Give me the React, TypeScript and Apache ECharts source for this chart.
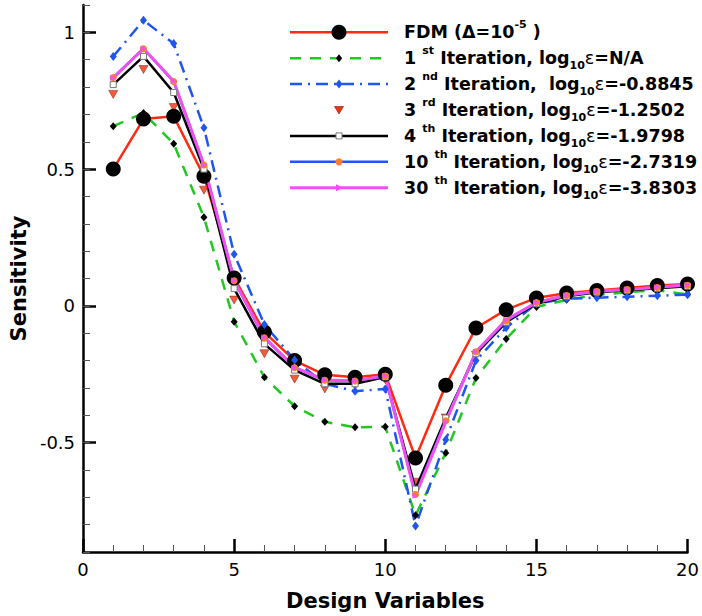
import React, { useEffect, useRef } from "react";
import * as echarts from "echarts";

const X = [1, 2, 3, 4, 5, 6, 7, 8, 9, 10, 11, 12, 13, 14, 15, 16, 17, 18, 19, 20];
const FDM = [0.5, 0.683, 0.693, 0.474, 0.102, -0.096, -0.2, -0.252, -0.261, -0.25, -0.556, -0.29, -0.081, -0.014, 0.029, 0.047, 0.056, 0.065, 0.074, 0.08];
const IT1 = [0.657, 0.705, 0.593, 0.324, -0.058, -0.261, -0.367, -0.424, -0.444, -0.442, -0.766, -0.538, -0.264, -0.121, -0.004, 0.022, 0.04, 0.05, 0.057, 0.042];
const IT2 = [0.912, 1.044, 0.959, 0.651, 0.189, -0.068, -0.198, -0.285, -0.312, -0.304, -0.805, -0.49, -0.2, -0.08, 0.008, 0.026, 0.03, 0.033, 0.037, 0.041];
const IT3 = [0.773, 0.864, 0.725, 0.423, 0.021, -0.175, -0.268, -0.304, -0.292, -0.27, -0.645, -0.41, -0.18, -0.075, 0.005, 0.027, 0.036, 0.041, 0.047, 0.053];
const IT4 = [0.809, 0.912, 0.78, 0.5, 0.063, -0.139, -0.235, -0.285, -0.285, -0.26, -0.67, -0.41, -0.175, -0.06, 0.008, 0.035, 0.05, 0.057, 0.064, 0.072];
const IT10 = [0.835, 0.94, 0.82, 0.515, 0.092, -0.117, -0.226, -0.272, -0.275, -0.257, -0.69, -0.42, -0.168, -0.055, 0.012, 0.038, 0.052, 0.06, 0.067, 0.075];
const IT30 = [0.833, 0.941, 0.821, 0.516, 0.093, -0.115, -0.225, -0.271, -0.274, -0.256, -0.694, -0.424, -0.168, -0.051, 0.012, 0.039, 0.053, 0.06, 0.068, 0.077];

const Y_MAJOR = [-0.5, 0, 0.5, 1];

const ORD = ["", "st", "nd", "rd", "th", "th", "th"];
const NUMS = ["", "1", "2", "3", "4", "10", "30"];
const EPS = ["", "=N/A", "=-0.8845", "=-1.2502", "=-1.9798", "=-2.7319", "=-3.8303"];

const FONT = "'DejaVu Sans', 'Liberation Sans', Arial, sans-serif";

const pairs = (ys: number[]) => X.map((x, i) => [x, ys[i]]);

export default function App() {
  const ref = useRef<HTMLDivElement>(null);
  useEffect(() => {
    if (!ref.current) return;
    const chart = echarts.init(ref.current, undefined, { renderer: "svg" });

    const rich = {
      b: { fontFamily: FONT, fontWeight: "bold", fontSize: 17.5, fill: "#000", lineHeight: 26 },
      sup: { fontFamily: FONT, fontWeight: "bold", fontSize: 11, fill: "#000", verticalAlign: "top", lineHeight: 26 },
      sub: { fontFamily: FONT, fontWeight: "bold", fontSize: 11, fill: "#000", verticalAlign: "bottom", lineHeight: 22 },
      e: { fontFamily: FONT, fontWeight: "normal", fontSize: 17.5, fill: "#000", lineHeight: 26 },
    };

    const rowY = (i: number) => 32.3 + i * 25.9;
    const L1 = 290, L2 = 388, CX = 339, TX = 404;

    const labelText = (i: number) => {
      if (i === 0) return "{b|FDM (Δ=10}{sup|-5}{b| )}";
      const sp = i === 2 ? "  " : " ";
      return `{b|${NUMS[i]} }{sup|${ORD[i]}}{b| Iteration,${sp}log}{sub|10}{e|ε}{b|${EPS[i]}}`;
    };

    const legendEls: any[] = [];
    const lineDefs = [
      { stroke: "#ff2a10", dash: null, w: 2.5 },
      { stroke: "#20c820", dash: [11, 9], w: 2.5 },
      { stroke: "#1f55f0", dash: [12, 6, 2, 6], w: 2.5 },
      null,
      { stroke: "#000", dash: null, w: 2.5 },
      { stroke: "#1e55ff", dash: null, w: 2.5 },
      { stroke: "#f050f0", dash: null, w: 3 },
    ];
    for (let i = 0; i < 7; i++) {
      const y = rowY(i);
      const ld = lineDefs[i];
      if (ld) {
        legendEls.push({
          type: "line",
          shape: { x1: L1, y1: y, x2: L2, y2: y },
          style: { stroke: ld.stroke, lineWidth: ld.w, lineDash: ld.dash || undefined },
          z: 100,
        });
      }
      legendEls.push({
        type: "text",
        x: TX,
        y: y,
        style: { text: labelText(i), rich, verticalAlign: "middle", align: "left" },
        z: 100,
      });
    }
    legendEls.push({ type: "circle", shape: { cx: CX, cy: rowY(0), r: 7.5 }, style: { fill: "#000" }, z: 101 });
    legendEls.push({
      type: "polygon",
      shape: { points: [[CX, rowY(1) - 4], [CX + 3.2, rowY(1)], [CX, rowY(1) + 4], [CX - 3.2, rowY(1)]] },
      style: { fill: "#000" },
      z: 101,
    });
    legendEls.push({
      type: "polygon",
      shape: { points: [[CX, rowY(2) - 4.5], [CX + 3.5, rowY(2)], [CX, rowY(2) + 4.5], [CX - 3.5, rowY(2)]] },
      style: { fill: "#1f55f0" },
      z: 101,
    });
    legendEls.push({
      type: "polygon",
      shape: { points: [[CX - 4.5, rowY(3) - 3.5], [CX + 4.5, rowY(3) - 3.5], [CX, rowY(3) + 4]] },
      style: { fill: "#ee3311", stroke: "#7a1a0a", lineWidth: 0.6 },
      z: 101,
    });
    legendEls.push({
      type: "rect",
      shape: { x: CX - 3, y: rowY(4) - 3, width: 6, height: 6 },
      style: { fill: "#fff", stroke: "#777", lineWidth: 1 },
      z: 101,
    });
    legendEls.push({ type: "circle", shape: { cx: CX, cy: rowY(5), r: 3.6 }, style: { fill: "#ff7f27" }, z: 101 });
    legendEls.push({
      type: "polygon",
      shape: { points: [[CX - 3, rowY(6) - 3.5], [CX + 4, rowY(6)], [CX - 3, rowY(6) + 3.5]] },
      style: { fill: "#f050f0" },
      z: 101,
    });

    const option: any = {
      animation: false,
      backgroundColor: "#fff",
      grid: { left: 81, right: 13, top: 5, bottom: 54, containLabel: false },
      xAxis: {
        type: "value",
        min: 0,
        max: 20,
        interval: 5,
        name: "Design Variables",
        nameLocation: "middle",
        nameGap: 38,
        nameTextStyle: { fontFamily: FONT, fontWeight: "bold", fontSize: 21, color: "#000" },
        axisLine: { show: true, onZero: false, lineStyle: { color: "#000", width: 2.5 } },
        axisTick: { show: true, inside: true, length: 13, lineStyle: { color: "#000", width: 2.5 } },
        minorTick: { show: true, splitNumber: 5, length: 7, lineStyle: { color: "#555", width: 1 } },
        axisLabel: { fontFamily: FONT, fontSize: 18, color: "#000", margin: 8 },
        splitLine: { show: false },
        minorSplitLine: { show: false },
      },
      yAxis: [
        {
          type: "value",
          min: -0.9,
          max: 1.1,
          position: "left",
          name: "Sensitivity",
          nameLocation: "middle",
          nameRotate: 90,
          nameGap: 53,
          nameTextStyle: { fontFamily: FONT, fontWeight: "bold", fontSize: 21, color: "#000" },
          axisLine: { show: true, onZero: false, lineStyle: { color: "#000", width: 2.5 } },
          axisTick: { show: true, inside: true, length: 13, lineStyle: { color: "#000", width: 2.5 }, customValues: Y_MAJOR },
          axisLabel: { fontFamily: FONT, fontSize: 18, color: "#000", margin: 8, customValues: Y_MAJOR },
          splitLine: { show: false },
        },
        {
          type: "value",
          min: -0.9,
          max: 1.1,
          interval: 0.1,
          position: "left",
          offset: 0,
          axisLine: { show: false },
          axisTick: { show: true, inside: true, length: 7, lineStyle: { color: "#555", width: 1 } },
          axisLabel: { show: false },
          splitLine: { show: false },
        },
      ],
      series: [
        {
          name: "FDM",
          type: "line",
          data: pairs(FDM),
          symbol: "circle",
          symbolSize: 15,
          showSymbol: true,
          itemStyle: { color: "#000" },
          lineStyle: { color: "#ff2a10", width: 2.5 },
          silent: true,
        },
        {
          name: "1st",
          type: "line",
          data: pairs(IT1),
          symbol: "diamond",
          symbolSize: [7, 8],
          itemStyle: { color: "#000" },
          lineStyle: { color: "#20c820", width: 2.5, type: [11, 9] },
          silent: true,
        },
        {
          name: "2nd",
          type: "line",
          data: pairs(IT2),
          symbol: "diamond",
          symbolSize: [7, 9],
          itemStyle: { color: "#1f55f0" },
          lineStyle: { color: "#1f55f0", width: 2.5, type: [12, 6, 2, 6] },
          silent: true,
        },
        {
          name: "3rd",
          type: "scatter",
          data: pairs(IT3),
          symbol: "triangle",
          symbolRotate: 180,
          symbolSize: [9, 8],
          itemStyle: { color: "#ee3311", borderColor: "#7a1a0a", borderWidth: 0.6 },
          silent: true,
        },
        {
          name: "4th",
          type: "line",
          data: pairs(IT4),
          symbol: "rect",
          symbolSize: 6,
          itemStyle: { color: "#fff", borderColor: "#777", borderWidth: 1 },
          lineStyle: { color: "#000", width: 2.5 },
          silent: true,
        },
        {
          name: "10th",
          type: "line",
          data: pairs(IT10),
          symbol: "circle",
          symbolSize: 7,
          itemStyle: { color: "#ff7f27" },
          lineStyle: { color: "#1e55ff", width: 2.5 },
          silent: true,
        },
        {
          name: "30th",
          type: "line",
          data: pairs(IT30),
          symbol: "triangle",
          symbolRotate: -90,
          symbolSize: 6,
          itemStyle: { color: "#f050f0" },
          lineStyle: { color: "#f050f0", width: 3 },
          silent: true,
        },
      ],
      graphic: { elements: legendEls },
    };
    chart.setOption(option);
    return () => chart.dispose();
  }, []);

  return (
    <div
      ref={ref}
      style={{ position: "fixed", left: 0, top: 0, width: 702, height: 616, background: "#fff" }}
    />
  );
}
